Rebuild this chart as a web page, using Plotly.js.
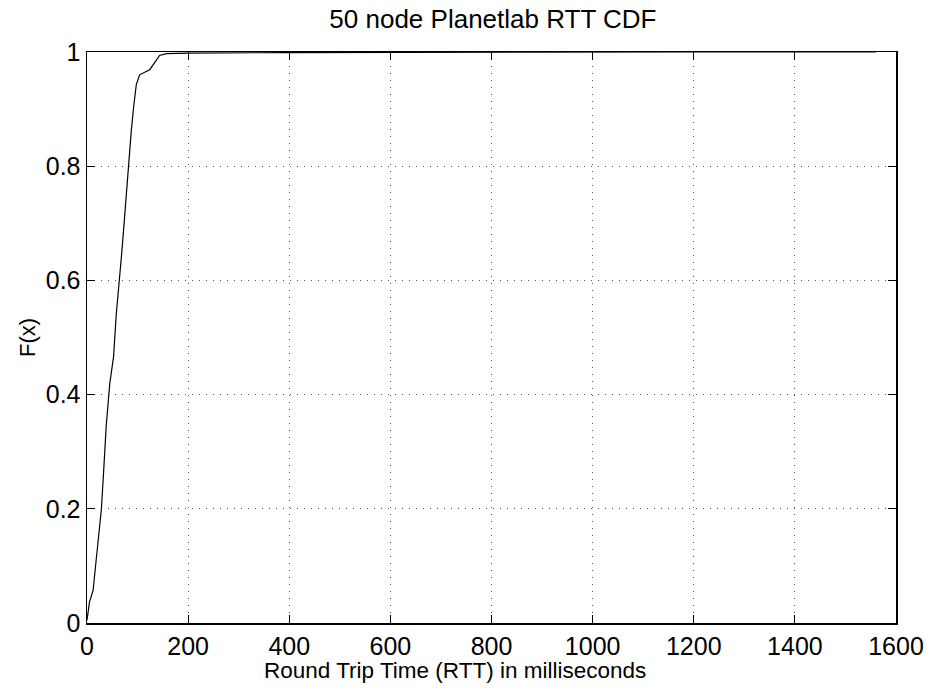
<!DOCTYPE html>
<html>
<head>
<meta charset="utf-8">
<script src="https://cdn.plot.ly/plotly-3.0.1.min.js"></script>
<style>html,body{margin:0;padding:0;background:#fff;}#chart{width:930px;height:688px;}</style>
</head>
<body>
<div id="chart"></div>
<script>
// RTT values (ms) and cumulative fraction F(x)
const rttMs = [0, 5, 12, 18.5, 24, 28.5, 33, 38, 45, 52.5, 58, 63, 68, 72.5, 78, 83, 87.5, 92, 97.5, 104, 114, 124, 133.5, 143.5, 157, 200, 400, 800, 1200, 1560];
const cdf   = [0.005, 0.037, 0.057, 0.116, 0.162, 0.2, 0.267, 0.345, 0.419, 0.466, 0.542, 0.6, 0.641, 0.69, 0.757, 0.804, 0.861, 0.902, 0.943, 0.96, 0.965, 0.969, 0.981, 0.994, 0.997, 0.998, 0.999, 1.0, 1.0, 1.0];
const xTicks = [0, 200, 400, 600, 800, 1000, 1200, 1400, 1600];
const yTicks = [0, 0.2, 0.4, 0.6, 0.8, 1];
const xTitle = 'Round Trip Time (RTT) in milliseconds';

const font = 'Liberation Sans, Arial, Helvetica, sans-serif';
const trace = {
  x: rttMs, y: cdf, type: 'scatter', mode: 'lines',
  line: {color: '#000', width: 1.2}, hoverinfo: 'none'
};
const axisCommon = {
  showline: true, linecolor: '#000', linewidth: 1.5, mirror: 'ticks',
  ticks: 'inside', ticklen: 8, tickwidth: 1, tickcolor: '#000',
  showgrid: true, gridcolor: '#555', griddash: '1px,6px', gridwidth: 1,
  zeroline: false, tickfont: {family: font, size: 25, color: '#000'}
};
const layout = {
  width: 930, height: 688,
  margin: {l: 87, r: 34, t: 52, b: 65},
  paper_bgcolor: '#fff', plot_bgcolor: '#fff',
  showlegend: false,
  title: {text: '50 node Planetlab RTT CDF', font: {family: font, size: 26, color: '#000'}, x: 0.53, xanchor: 'center', y: 0.972, yanchor: 'middle'},
  xaxis: Object.assign({}, axisCommon, {
    range: [0, 1600], tickvals: xTicks, ticktext: xTicks.map(String)
  }),
  yaxis: Object.assign({}, axisCommon, {
    range: [0, 1], tickvals: yTicks, ticktext: yTicks.map(String),
    title: {text: 'F(x)', font: {family: font, size: 22, color: '#000'}, standoff: 4}
  }),
  annotations: [{
    text: xTitle, xref: 'paper', yref: 'paper', x: 0.455, y: -0.084,
    xanchor: 'center', yanchor: 'middle', showarrow: false,
    font: {family: font, size: 22.5, color: '#000'}
  }]
};
Plotly.newPlot('chart', [trace], layout, {displayModeBar: false, staticPlot: true});
</script>
</body>
</html>
